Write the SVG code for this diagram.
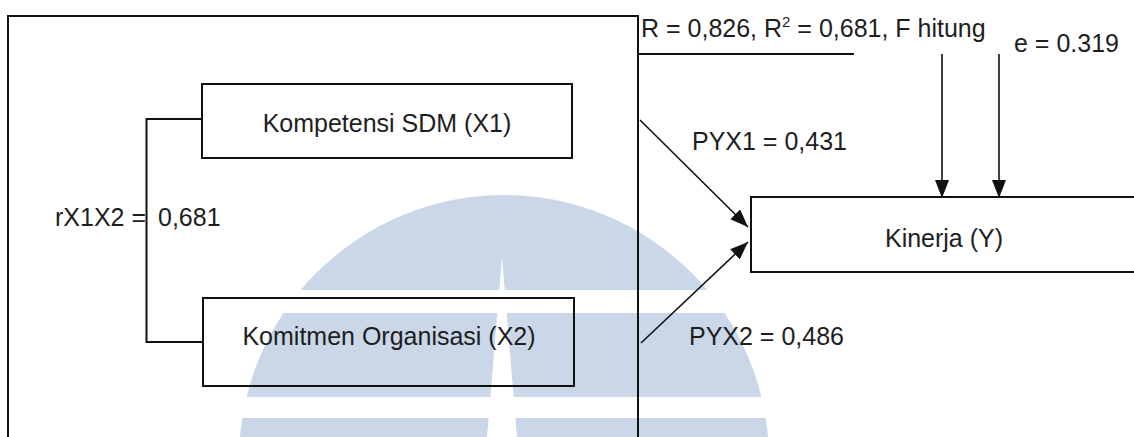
<svg xmlns="http://www.w3.org/2000/svg" width="1134" height="437" viewBox="0 0 1134 437">
<style>
.t{font-family:"Liberation Sans",Arial,sans-serif;font-size:25px;fill:#1e1e1e}
.box{fill:none;stroke:#111;stroke-width:2}
.ln{fill:none;stroke:#111;stroke-width:2}
.ar{fill:none;stroke:#111;stroke-width:1.6}
</style>
<defs>
<marker id="ah" viewBox="0 0 18 14" refX="18" refY="7" markerWidth="18" markerHeight="14" markerUnits="userSpaceOnUse" orient="auto">
<path d="M0,0 L18,7 L0,14 z" fill="#111"/>
</marker>
</defs>
<rect width="1134" height="437" fill="#fff"/>
<g id="watermark">
<circle cx="504" cy="460" r="265" fill="#cad7e8"/>
<rect x="200" y="290" width="620" height="23" fill="#fff"/>
<rect x="200" y="397" width="620" height="21" fill="#fff"/>
<path d="M502,257 L487,437 L517,437 z" fill="#fff"/>
</g>
<g id="frame">
<path class="ln" d="M8,437 L8,16 L638,16 L638,437"/>
</g>
<g id="connectors">
<path class="ln" d="M638,54 L854,54"/>
<path class="ln" d="M202,119 L146.5,119 L146.5,342 L203,342"/>
<line class="ar" x1="640" y1="120" x2="748" y2="227" marker-end="url(#ah)"/>
<line class="ar" x1="641" y1="343" x2="748" y2="242" marker-end="url(#ah)"/>
<line class="ar" x1="942" y1="54" x2="942" y2="198" marker-end="url(#ah)"/>
<line class="ar" x1="999" y1="54" x2="999" y2="198" marker-end="url(#ah)"/>
</g>
<g id="node-x1">
<rect class="box" x="202" y="84" width="370" height="74"/>
<text class="t" x="387" y="132" text-anchor="middle">Kompetensi SDM (X1)</text>
</g>
<g id="node-x2">
<rect class="box" x="203" y="298" width="371" height="88"/>
<text class="t" x="389" y="345" text-anchor="middle">Komitmen Organisasi (X2)</text>
</g>
<g id="node-y">
<rect class="box" x="751" y="197" width="400" height="75"/>
<text class="t" x="944" y="247" text-anchor="middle">Kinerja (Y)</text>
</g>
<g id="labels">
<text class="t" x="641" y="37">R = 0,826, R<tspan font-size="15" dy="-10">2</tspan><tspan dy="10"> = 0,681, F hitung</tspan></text>
<text class="t" x="1014" y="52">e = 0.319</text>
<text class="t" x="55" y="226">rX1X2 =</text>
<text class="t" x="158" y="226">0,681</text>
<text class="t" x="692" y="150">PYX1 = 0,431</text>
<text class="t" x="689" y="345">PYX2 = 0,486</text>
</g>
</svg>
